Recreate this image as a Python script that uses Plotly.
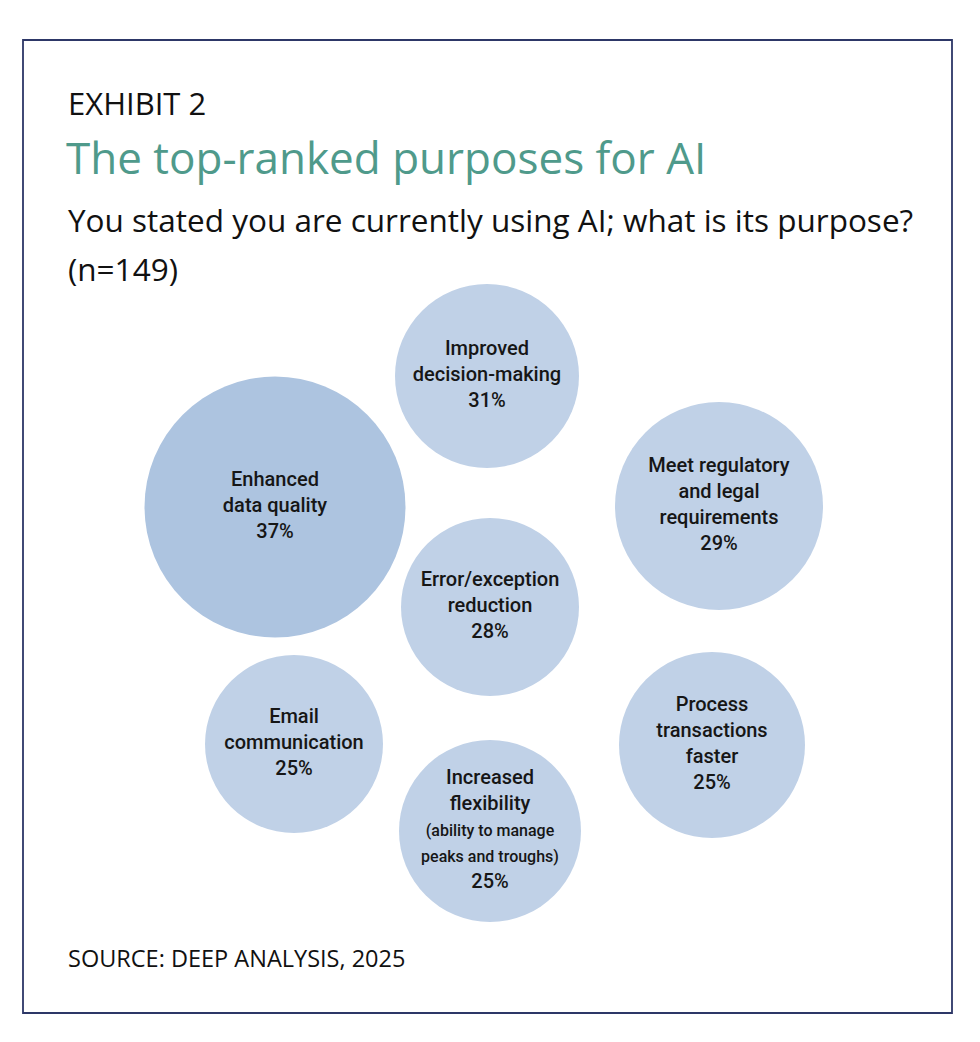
import plotly.graph_objects as go

# ---- data ----
purposes = [
    "Improved<br>decision-making",
    "Enhanced<br>data quality",
    "Meet regulatory<br>and legal<br>requirements",
    "Error/exception<br>reduction",
    "Email<br>communication",
    "Process<br>transactions<br>faster",
    "Increased<br>flexibility<br><span style='font-size:16px'>(ability to manage<br>peaks and troughs)</span>",
]
shares = [31, 37, 29, 28, 25, 25, 25]

# ---- layout of the bubbles (pixel space) ----
cx = [487, 275, 719, 490, 294, 712, 490]
cy = [376, 507, 506, 607, 744, 745, 831]
diam = [184, 261, 208, 178, 178, 186, 182]
fills = ["#c0d1e7", "#adc4e0", "#c0d1e7", "#c0d1e7", "#c0d1e7", "#c0d1e7", "#c0d1e7"]

labels = [f"{p}<br>{s}%" for p, s in zip(purposes, shares)]

W, H = 980, 1042
fig = go.Figure()
fig.add_trace(go.Scatter(
    x=cx, y=cy, mode="markers+text",
    text=labels, textposition="middle center",
    textfont=dict(family="Roboto, sans-serif", size=20, color="#161616", weight=500),
    marker=dict(size=diam, sizemode="diameter", color=fills, line=dict(width=0), opacity=1),
    hoverinfo="skip", showlegend=False,
))

font_hdr = "Open Sans, Noto Sans, sans-serif"
ann = [
    dict(x=66, y=103, text="EXHIBIT 2", size=31, color="#111111"),
    dict(x=64, y=157, text="The top-ranked purposes for AI", size=44, color="#4f9a8b"),
    dict(x=66, y=219, text="You stated you are currently using AI; what is its purpose?", size=31.5, color="#111111"),
    dict(x=66, y=268, text="(n=149)", size=31.5, color="#111111"),
    dict(x=66, y=958, text="SOURCE: DEEP ANALYSIS, 2025", size=23.5, color="#111111"),
]
for a in ann:
    fig.add_annotation(x=a["x"], y=a["y"], xref="x", yref="y", text=a["text"],
                       showarrow=False, xanchor="left", yanchor="middle",
                       font=dict(family=font_hdr, size=a["size"], color=a["color"]))

fig.add_shape(type="rect", x0=23, y0=40, x1=952, y1=1013, xref="x", yref="y",
              line=dict(color="#2d3767", width=1.8), fillcolor="rgba(0,0,0,0)", layer="below")

fig.update_layout(
    width=W, height=H, margin=dict(l=0, r=0, t=0, b=0),
    paper_bgcolor="white", plot_bgcolor="white",
    xaxis=dict(range=[0, W], visible=False, fixedrange=True),
    yaxis=dict(range=[H, 0], visible=False, fixedrange=True),
)
fig.write_html("out.html", config={"displayModeBar": False},
               post_script="document.body.style.margin='0';document.body.style.overflow='hidden';")
